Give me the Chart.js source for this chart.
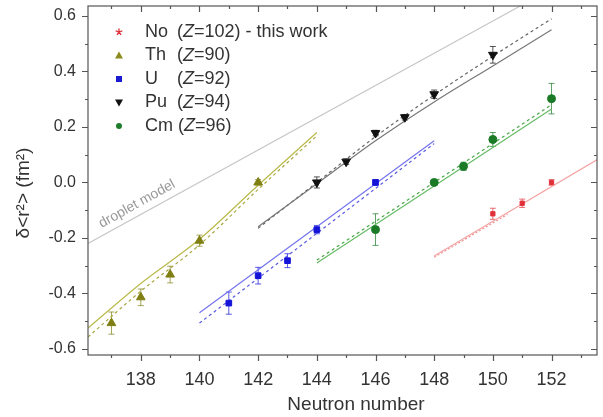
<!DOCTYPE html>
<html lang="en">
<head>
<meta charset="UTF-8">
<title>Charge radii</title>
<script src="https://cdn.jsdelivr.net/npm/chart.js"></script>
<style>
  html, body { margin: 0; padding: 0; background: #fff; }
  #wrap { width: 603px; height: 417px; }
</style>
</head>
<body>
<div id="wrap"><canvas id="chart" width="603" height="417"></canvas></div>
<script>
// measured points: neutron number, delta<r^2>, error
const noN = [150, 151, 152];
const noVal = [-0.113, -0.075, 0.0];
const noErr = [0.02, 0.015, 0.01];

const thN = [137, 138, 139, 140, 142];
const thVal = [-0.507, -0.414, -0.332, -0.21, 0.0];
const thErr = [0.04, 0.03, 0.03, 0.02, 0.01];

const uN = [141, 142, 143, 144, 146];
const uVal = [-0.435, -0.336, -0.282, -0.17, 0.0];
const uErr = [0.04, 0.03, 0.025, 0.015, 0.01];

const puN = [144, 145, 146, 147, 148, 150];
const puVal = [0.0, 0.075, 0.178, 0.235, 0.318, 0.46];
const puErr = [0.02, 0.01, 0.01, 0.01, 0.015, 0.03];

const cmN = [146, 148, 149, 150, 152];
const cmVal = [-0.17, 0.0, 0.058, 0.155, 0.302];
const cmErr = [0.057, 0.01, 0.015, 0.025, 0.055];

// model lines (solid / dashed)
const thFitN = [136.2, 138, 140, 142, 144];
const thFitSolid = [-0.525, -0.364, -0.205, -0.01, 0.18];
const thFitDash = [-0.557, -0.392, -0.225, -0.025, 0.168];

const uFitN = [140, 148];
const uFitSolid = [-0.47, 0.15];
const uFitDash = [-0.507, 0.14];

const puFitN = [142, 144, 146, 148, 150, 152];
const puFitSolid = [-0.16, -0.005, 0.15, 0.29, 0.42, 0.55];
const puFitDash = [-0.165, 0.0, 0.165, 0.315, 0.455, 0.59];

const cmFitN = [144, 152];
const cmFitSolid = [-0.29, 0.265];
const cmFitDash = [-0.28, 0.28];

const noFitN = [148, 153.6];
const noFitSolid = [-0.265, 0.085];
const noDashN = [148, 150.5];
const noFitDash = [-0.27, -0.115];

const dropN = [136.2, 151];
const dropVal = [-0.22, 0.64];

const xTicks = [137, 138, 139, 140, 141, 142, 143, 144, 145, 146, 147, 148, 149, 150, 151, 152, 153];
const yTicks = [-0.6, -0.5, -0.4, -0.3, -0.2, -0.1, 0.0, 0.1, 0.2, 0.3, 0.4, 0.5, 0.6];

const legendItems = [
  { name: 'No', z: '102', extra: ' - this work', style: 'star', color: '#e0303a' },
  { name: 'Th', z: '90', extra: '', style: 'triangle', color: '#8c8c1e' },
  { name: 'U', z: '92', extra: '', style: 'rect', color: '#1a1ad0' },
  { name: 'Pu', z: '94', extra: '', style: 'triDown', color: '#111' },
  { name: 'Cm', z: '96', extra: '', style: 'circle', color: '#1e7d2a' }
];

const FONT = "'Liberation Sans', Arial, sans-serif";

const pts = (xs, ys) => xs.map((x, i) => ({ x: x, y: ys[i] }));

function pointSet(label, xs, ys, errs, color, style, radius, rotation) {
  return {
    label: label, data: pts(xs, ys), err: errs, showLine: false,
    pointStyle: style, pointRadius: radius, pointRotation: rotation || 0,
    backgroundColor: color, borderColor: color, borderWidth: 1, order: 0
  };
}
function lineSet(xs, ys, color, dash, smooth) {
  return {
    data: pts(xs, ys), showLine: true, pointRadius: 0, borderColor: color,
    borderWidth: 1.2, borderDash: dash || [], order: 1, fill: false,
    tension: smooth ? 0.4 : 0, cubicInterpolationMode: smooth ? 'monotone' : 'default'
  };
}

// error bars + axis ticks + frame + legend + titles
const decor = {
  id: 'decor',
  beforeDatasetsDraw(chart) {
    const ctx = chart.ctx;
    chart.data.datasets.forEach((ds, i) => {
      if (!ds.err) return;
      const meta = chart.getDatasetMeta(i);
      const ys = chart.scales.y;
      ctx.save();
      ctx.strokeStyle = ds.borderColor;
      ctx.globalAlpha = 0.7;
      ctx.lineWidth = 1;
      ds.data.forEach((p, j) => {
        const px = meta.data[j].x;
        const top = ys.getPixelForValue(p.y + ds.err[j]);
        const bot = ys.getPixelForValue(p.y - ds.err[j]);
        ctx.beginPath();
        ctx.moveTo(px, top); ctx.lineTo(px, bot);
        ctx.moveTo(px - 3, top); ctx.lineTo(px + 3, top);
        ctx.moveTo(px - 3, bot); ctx.lineTo(px + 3, bot);
        ctx.stroke();
      });
      ctx.restore();
    });
  },
  afterDraw(chart) {
    const ctx = chart.ctx;
    const a = chart.chartArea;
    const xs = chart.scales.x, ys = chart.scales.y;
    ctx.save();
    ctx.strokeStyle = '#555';
    ctx.lineWidth = 1.2;
    ctx.strokeRect(a.left, a.top, a.right - a.left, a.bottom - a.top);
    ctx.beginPath();
    xTicks.forEach(v => {
      const px = Math.round(xs.getPixelForValue(v)) + 0.5;
      const len = v % 2 === 0 ? 6 : 3;
      ctx.moveTo(px, a.bottom); ctx.lineTo(px, a.bottom + len);
      ctx.moveTo(px, a.top); ctx.lineTo(px, a.top + len);
    });
    yTicks.forEach((v, i) => {
      const py = Math.round(ys.getPixelForValue(v)) + 0.5;
      const len = i % 2 === 0 ? 6 : 3;
      ctx.moveTo(a.left, py); ctx.lineTo(a.left - len, py);
      ctx.moveTo(a.right, py); ctx.lineTo(a.right - len, py);
    });
    ctx.stroke();

    // droplet model label
    ctx.save();
    ctx.translate(137, 204);
    ctx.rotate(-29 * Math.PI / 180);
    ctx.fillStyle = '#9a9a9a';
    ctx.font = '14px ' + FONT;
    ctx.textAlign = 'center';
    ctx.textBaseline = 'middle';
    ctx.fillText('droplet model', 0, 0);
    ctx.restore();

    // axis titles
    ctx.fillStyle = '#333';
    ctx.font = '19px ' + FONT;
    ctx.textAlign = 'center';
    ctx.textBaseline = 'middle';
    ctx.fillText('Neutron number', 356, 405);
    ctx.save();
    ctx.translate(24, 193);
    ctx.rotate(-Math.PI / 2);
    ctx.fillText('\u03b4<r\u00b2> (fm\u00b2)', 0, 0);
    ctx.restore();

    // legend
    legendItems.forEach((it, i) => {
      const y = 32 + i * 23.5;
      drawMarker(ctx, it.style, 119, y, it.color);
      ctx.fillStyle = '#333';
      ctx.textAlign = 'left';
      ctx.font = '18px ' + FONT;
      ctx.fillText(it.name, 145, y);
      let x = Math.max(177, 145 + ctx.measureText(it.name).width + 5);
      ctx.fillText('(', x, y);
      x += ctx.measureText('(').width;
      ctx.font = 'italic 18px ' + FONT;
      ctx.fillText('Z', x, y);
      x += ctx.measureText('Z').width;
      ctx.font = '18px ' + FONT;
      ctx.fillText('=' + it.z + ')' + it.extra, x, y);
    });
    ctx.restore();
  }
};

function drawMarker(ctx, style, x, y, color) {
  ctx.save();
  ctx.fillStyle = color;
  ctx.strokeStyle = color;
  ctx.beginPath();
  if (style === 'circle') {
    ctx.arc(x, y, 3, 0, Math.PI * 2); ctx.fill();
  } else if (style === 'rect') {
    ctx.fillRect(x - 3, y - 3, 6, 6);
  } else if (style === 'triangle') {
    ctx.moveTo(x, y - 4); ctx.lineTo(x + 4, y + 3); ctx.lineTo(x - 4, y + 3); ctx.closePath(); ctx.fill();
  } else if (style === 'triDown') {
    ctx.moveTo(x, y + 4); ctx.lineTo(x + 4, y - 3); ctx.lineTo(x - 4, y - 3); ctx.closePath(); ctx.fill();
  } else {
    ctx.lineWidth = 1.3;
    for (let k = 0; k < 5; k++) {
      const ang = -Math.PI / 2 + k * 2 * Math.PI / 5;
      ctx.moveTo(x, y); ctx.lineTo(x + 3.5 * Math.cos(ang), y + 3.5 * Math.sin(ang));
    }
    ctx.stroke();
  }
  ctx.restore();
}

new Chart(document.getElementById('chart'), {
  type: 'scatter',
  data: {
    datasets: [
      lineSet(dropN, dropVal, '#c8c8c8'),
      lineSet(thFitN, thFitSolid, '#b9b94a', [], true),
      lineSet(thFitN, thFitDash, '#a8a840', [3, 3], true),
      lineSet(uFitN, uFitSolid, '#7474ee'),
      lineSet(uFitN, uFitDash, '#5a5ae0', [3, 3]),
      lineSet(puFitN, puFitSolid, '#777', [], true),
      lineSet(puFitN, puFitDash, '#666', [3, 3], true),
      lineSet(cmFitN, cmFitSolid, '#66bb66'),
      lineSet(cmFitN, cmFitDash, '#4aa84a', [3, 3]),
      lineSet(noFitN, noFitSolid, '#f4a4a4'),
      lineSet(noDashN, noFitDash, '#f09090', [2, 2]),
      pointSet('No', noN, noVal, noErr, '#e0303a', 'rect', 3),
      pointSet('Th', thN, thVal, thErr, '#7f7f14', 'triangle', 5),
      pointSet('U', uN, uVal, uErr, '#1414d8', 'rect', 4),
      pointSet('Pu', puN, puVal, puErr, '#111', 'triangle', 5, 180),
      pointSet('Cm', cmN, cmVal, cmErr, '#1a7a26', 'circle', 4)
    ]
  },
  options: {
    responsive: false,
    animation: false,
    layout: { padding: { top: 5, right: 2, left: 0, bottom: 0 } },
    plugins: { legend: { display: false }, tooltip: { enabled: false } },
    scales: {
      x: {
        type: 'linear', min: 136.2, max: 153.55,
        grid: { display: false, drawTicks: false },
        border: { display: false },
        afterBuildTicks: s => { s.ticks = xTicks.map(v => ({ value: v })); },
        afterFit: s => { s.height = 62; s.paddingLeft = 0; s.paddingRight = 0; },
        ticks: {
          padding: 14, color: '#333', font: { size: 18, family: FONT },
          maxRotation: 0, autoSkip: false,
          callback: v => (v % 2 === 0 ? String(v) : '')
        }
      },
      y: {
        type: 'linear', min: -0.622, max: 0.636,
        grid: { display: false, drawTicks: false },
        border: { display: false },
        afterBuildTicks: s => { s.ticks = yTicks.map(v => ({ value: v })); },
        afterFit: s => { s.width = 88; s.paddingTop = 0; s.paddingBottom = 0; },
        ticks: {
          padding: 12, color: '#333', font: { size: 16, family: FONT }, autoSkip: false,
          callback: (v, i) => (i % 2 === 0 ? v.toFixed(1) : '')
        }
      }
    }
  },
  plugins: [decor]
});
</script>
</body>
</html>
